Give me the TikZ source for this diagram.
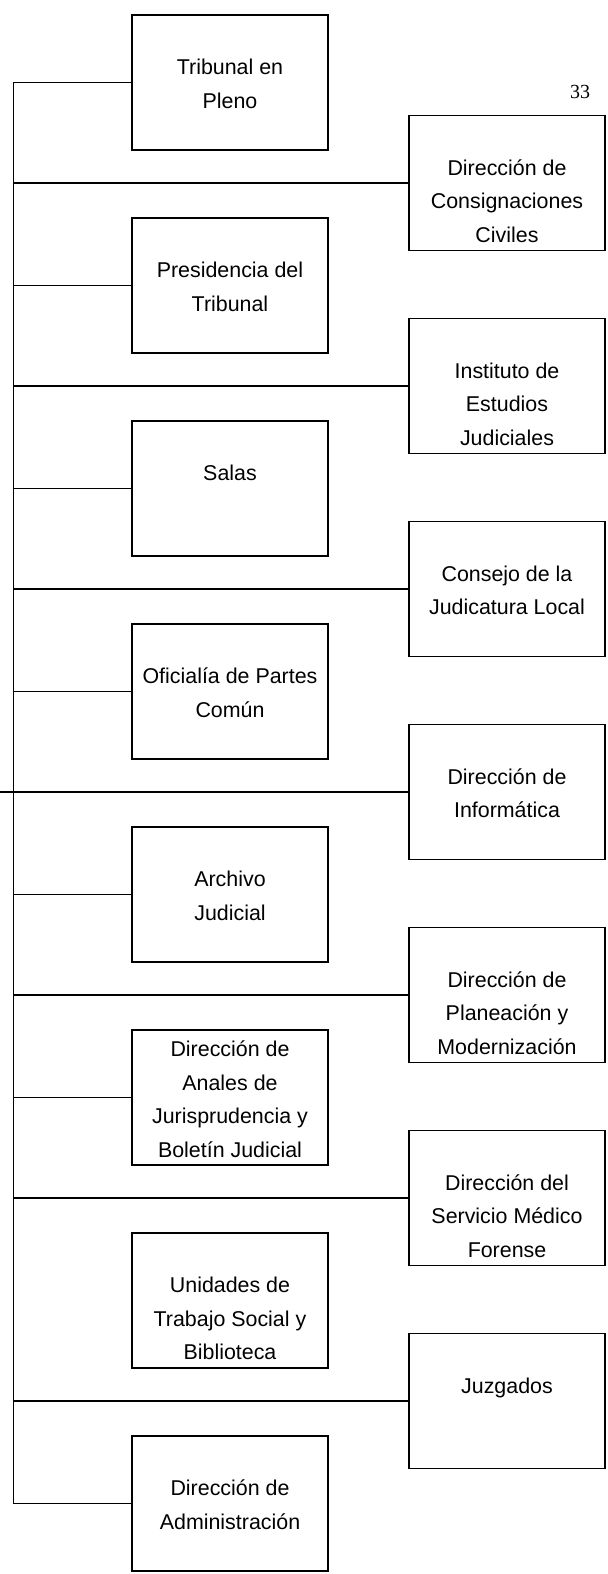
\documentclass[tikz,border=0pt]{standalone}
\usepackage{fontspec}
\setmainfont{Liberation Sans}
\newfontfamily\folio{Liberation Serif}
\usetikzlibrary{positioning}
\tikzset{
	caja/.style={
		rectangle,
		draw=black,
		line width=0.85pt,
		minimum width=98pt,
		minimum height=67.5pt,
		inner sep=0pt,
		outer sep=0pt
	},
	rotulo/.style={
		anchor=north,
		yshift=-21.9pt,
		align=center,
		inner sep=0pt,
		font=\fontsize{10.7pt}{16.75pt}\selectfont
	},
	rotulo alto/.style={
		rotulo,
		yshift=16.5pt
	},
	linea/.style={
		draw=black,
		line width=0.85pt
	},
}

\begin{document}
\begin{tikzpicture}[x=0.5pt,y=-0.5pt]
\useasboundingbox (0,0) rectangle (608,1574);
\coordinate (eje) at (13.5,0);
\coordinate (borde) at (0,0);

% columna izquierda
\node [caja,label={[rotulo]north:{Tribunal en\\Pleno}}] (pleno) at (230,82.5) {};
\node [caja,below=34pt of pleno,label={[rotulo]north:{Presidencia del\\Tribunal}}] (presidencia) {};
\node [caja,below=34pt of presidencia,label={[rotulo]north:{Salas}}] (salas) {};
\node [caja,below=34pt of salas,label={[rotulo]north:{Oficialía de Partes\\Común}}] (oficialia) {};
\node [caja,below=34pt of oficialia,label={[rotulo]north:{Archivo\\Judicial}}] (archivo) {};
\node [caja,below=34pt of archivo,label={[rotulo alto]north:{Dirección de\\Anales de\\Jurisprudencia y\\Boletín Judicial}}] (anales) {};
\node [caja,below=34pt of anales,label={[rotulo]north:{Unidades de\\Trabajo Social y\\Biblioteca}}] (unidades) {};
\node [caja,below=34pt of unidades,label={[rotulo]north:{Dirección de\\Administración}}] (administracion) {};

% columna derecha
\node [caja,label={[rotulo]north:{Dirección de\\Consignaciones\\Civiles}}] (consignaciones) at (507,183) {};
\node [caja,below=34pt of consignaciones,label={[rotulo]north:{Instituto de\\Estudios\\Judiciales}}] (instituto) {};
\node [caja,below=34pt of instituto,label={[rotulo]north:{Consejo de la\\Judicatura Local}}] (consejo) {};
\node [caja,below=34pt of consejo,label={[rotulo]north:{Dirección de\\Informática}}] (informatica) {};
\node [caja,below=34pt of informatica,label={[rotulo]north:{Dirección de\\Planeación y\\Modernización}}] (planeacion) {};
\node [caja,below=34pt of planeacion,label={[rotulo]north:{Dirección del\\Servicio Médico\\Forense}}] (medico) {};
\node [caja,below=34pt of medico,label={[rotulo]north:{Juzgados}}] (juzgados) {};

\node [font=\folio\fontsize{10pt}{12pt}\selectfont] (pagina) at (580,92) {33};

% tronco y ramas
\draw [linea] (pleno.west) -| (administracion.west -| eje) -- (administracion.west);
\draw [linea]
(presidencia.west) -- (presidencia.west -| eje)
(salas.west) -- (salas.west -| eje)
(oficialia.west) -- (oficialia.west -| eje)
(archivo.west) -- (archivo.west -| eje)
(anales.west) -- (anales.west -| eje)
(consignaciones.west) -- (consignaciones.west -| eje)
(instituto.west) -- (instituto.west -| eje)
(consejo.west) -- (consejo.west -| eje)
(informatica.west) -- (informatica.west -| borde)
(planeacion.west) -- (planeacion.west -| eje)
(medico.west) -- (medico.west -| eje)
(juzgados.west) -- (juzgados.west -| eje)
;
\end{tikzpicture}
\end{document}
